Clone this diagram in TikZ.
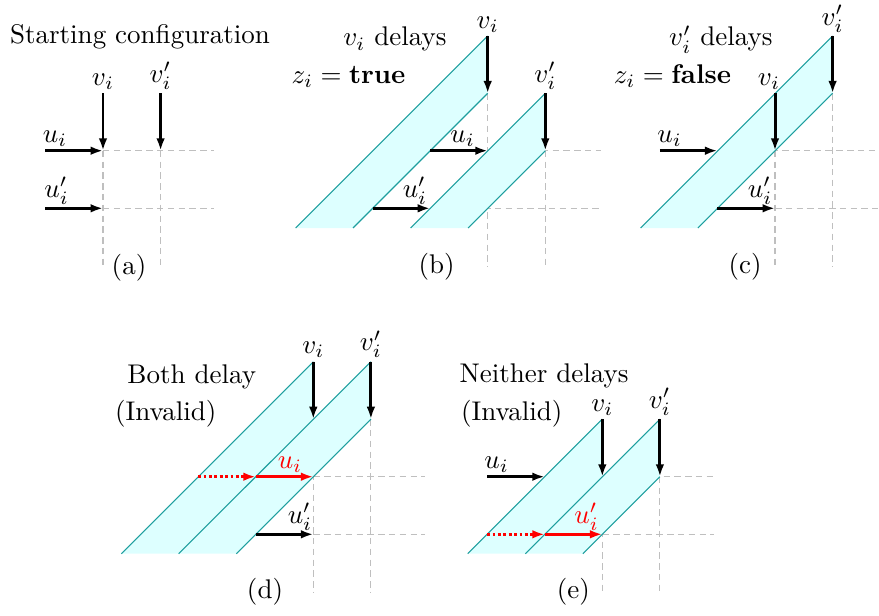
\documentclass[tikz,border=0pt]{standalone}
\usetikzlibrary{arrows.meta}
\definecolor{bandfill}{HTML}{DDFFFF}
\definecolor{bandedge}{HTML}{1E9E9E}
\begin{document}
\begin{tikzpicture}[x=0.37037pt,y=-0.37037pt,
  gridln/.style={draw=gray!50,line width=0.4pt,dash pattern=on 2.4pt off 1.6pt},
  arr/.style={line width=1.1pt,-{Latex[length=4.6pt,width=3.2pt]}},
  redarr/.style={arr,red},
  reddot/.style={arr,red,dash pattern=on 1.1pt off 0.9pt},
  bandf/.style={fill=bandfill,draw=none},
  bande/.style={draw=bandedge,line width=0.4pt},
  lab/.style={inner sep=1.2pt,anchor=south},
  ttl/.style={inner sep=0pt,anchor=base}]
\useasboundingbox (0,0) rectangle (879,615);

% ---------------- coordinates ----------------
% (a)
\coordinate (a1) at (103,150.7);   \coordinate (a2) at (160.6,150.7);
\coordinate (a3) at (103,208.3);   \coordinate (a4) at (160.6,208.3);
\coordinate (aVs) at (103,93.3);   \coordinate (aWs) at (160.6,93.3);
\coordinate (aUs) at (45.3,150.7); \coordinate (aXs) at (45.3,208.3);
\coordinate (aR1) at (214,150.7);  \coordinate (aR2) at (214,208.3);
\coordinate (aC1) at (103,267);    \coordinate (aC2) at (160.6,267);
% (b)
\coordinate (b1) at (487.7,150.7); \coordinate (b2) at (545.3,150.7);
\coordinate (b0) at (487.7,93.3);  \coordinate (bVs) at (487.7,36);
\coordinate (bUs) at (430.1,150.7); \coordinate (bXe) at (430.1,208.3);
\coordinate (bXs) at (372.5,208.3);
\coordinate (bR1) at (601,150.7);  \coordinate (bR2) at (601,208.3);
\coordinate (bC1) at (487.7,267);  \coordinate (bC2) at (545.3,267);
% (c)
\coordinate (c1) at (775,150.7);   \coordinate (c0) at (775,93.3);
\coordinate (c2) at (832.6,93.3);  \coordinate (cWs) at (832.6,36);
\coordinate (cUs) at (659.8,150.7); \coordinate (cUe) at (717.4,150.7);
\coordinate (cXs) at (717.4,208.3); \coordinate (cXe) at (775,208.3);
\coordinate (cR1) at (878,150.7);  \coordinate (cR2) at (878,208.3);
\coordinate (cC1) at (775,267);    \coordinate (cC2) at (832.6,267);
% (d)
\coordinate (d1) at (313.3,419.1); \coordinate (d2) at (370.9,419.1);
\coordinate (dVs) at (313.3,361.7); \coordinate (dWs) at (370.9,361.7);
\coordinate (dU0) at (198.1,476.7); \coordinate (dU1) at (255.7,476.7);
\coordinate (dU2) at (313.3,476.7);
\coordinate (dXs) at (255.7,534.3); \coordinate (dXe) at (313.3,534.3);
\coordinate (dR1) at (425,476.7);  \coordinate (dR2) at (425,534.3);
\coordinate (dC1) at (313.3,592);  \coordinate (dC2) at (370.9,592);
% (e)
\coordinate (e1) at (602.3,476.7); \coordinate (e2) at (659.9,476.7);
\coordinate (eVs) at (602.3,419.1); \coordinate (eWs) at (659.9,419.1);
\coordinate (eUs) at (487.1,476.7); \coordinate (eUe) at (544.7,476.7);
\coordinate (eX0) at (487.1,534.3); \coordinate (eX1) at (544.7,534.3);
\coordinate (eX2) at (602.3,534.3);
\coordinate (eR1) at (714,476.7);  \coordinate (eR2) at (714,534.3);
\coordinate (eC1) at (602.3,592);  \coordinate (eC2) at (659.9,592);

% ---------------- dashed grids ----------------
\draw[gridln] (a1) -- (aR1) (a3) -- (aR2) (a1) -- (aC1) (a2) -- (aC2);
\draw[gridln] (b1) -- (bR1) (bXe) -- (bR2) (b0) -- (bC1) (b2) -- (bC2);
\draw[gridln] (cUe) -- (cR1) (cXe) -- (cR2) (c1) -- (cC1) (c2) -- (cC2);
\draw[gridln] (dU2) -- (dR1) (dXe) -- (dR2) (d1) -- (dC1) (d2) -- (dC2);
\draw[gridln] (eUe) -- (eR1) (eX2) -- (eR2) (e1) -- (eC1) (e2) -- (eC2);

% ---------------- bands ----------------
% (b)
\fill[bandf] (487.7,36) -- (487.7,93.3) -- (353,228) -- (295.7,228) -- cycle;
\fill[bandf] (545.3,93.3) -- (545.3,150.7) -- (468,228) -- (410.6,228) -- cycle;
\draw[bande] (487.7,36) -- (295.7,228) (487.7,93.3) -- (353,228);
\draw[bande] (545.3,93.3) -- (410.6,228) (545.3,150.7) -- (468,228);
% (c)
\fill[bandf] (832.6,36) -- (832.6,93.3) -- (697.9,228) -- (640.6,228) -- cycle;
\draw[bande] (832.6,36) -- (640.6,228) (832.6,93.3) -- (697.9,228);
% (d)
\fill[bandf] (313.3,361.7) -- (313.3,419.1) -- (178.7,553.7) -- (121.3,553.7) -- cycle;
\fill[bandf] (370.9,361.7) -- (370.9,419.1) -- (236.3,553.7) -- (178.7,553.7) -- cycle;
\draw[bande] (313.3,361.7) -- (121.3,553.7) (370.9,361.7) -- (178.7,553.7)
             (370.9,419.1) -- (236.3,553.7);
% (e)
\fill[bandf] (602.3,419.1) -- (602.3,476.7) -- (525.3,553.7) -- (467.7,553.7) -- cycle;
\fill[bandf] (659.9,419.1) -- (659.9,476.7) -- (582.9,553.7) -- (525.3,553.7) -- cycle;
\draw[bande] (602.3,419.1) -- (467.7,553.7) (659.9,419.1) -- (525.3,553.7)
             (659.9,476.7) -- (582.9,553.7);

% ---------------- arrows ----------------
\draw[arr] (aVs) -- (a1);  \draw[arr] (aWs) -- (a2);
\draw[arr] (aUs) -- (a1);  \draw[arr] (aXs) -- (a3);

\draw[arr] (bVs) -- (b0);  \draw[arr] (b0 -| b2) -- (b2);
\draw[arr] (bUs) -- (b1);  \draw[arr] (bXs) -- (bXe);

\draw[arr] (c0) -- (c1);   \draw[arr] (cWs) -- (c2);
\draw[arr] (cUs) -- (cUe); \draw[arr] (cXs) -- (cXe);

\draw[arr] (dVs) -- (d1);  \draw[arr] (dWs) -- (d2);
\draw[reddot] (dU0) -- (dU1); \draw[redarr] (dU1) -- (dU2);
\draw[arr] (dXs) -- (dXe);

\draw[arr] (eVs) -- (e1);  \draw[arr] (eWs) -- (e2);
\draw[arr] (eUs) -- (eUe);
\draw[reddot] (eX0) -- (eX1); \draw[redarr] (eX1) -- (eX2);

% ---------------- labels ----------------
\node[lab] (aV) at (aVs) {$v_i$};
\node[lab] (aW) at (aWs) {$v'_i$};
\node[lab] (aU) at (55,150.7) {$u_i$};
\node[lab] (aX) at (56.7,208.3) {$u'_i$};

\node[lab] (bV) at (bVs) {$v_i$};
\node[lab] (bW) at (545.3,93.3) {$v'_i$};
\node[lab] (bU) at (462.7,150.7) {$u_i$};
\node[lab] (bX) at (415,208.3) {$u'_i$};

\node[lab] (cV) at (769,93.3) {$v_i$};
\node[lab] (cW) at (cWs) {$v'_i$};
\node[lab] (cU) at (669.5,150.7) {$u_i$};
\node[lab] (cX) at (760,208.3) {$u'_i$};

\node[lab] (dV) at (dVs) {$v_i$};
\node[lab] (dW) at (dWs) {$v'_i$};
\node[lab,text=red] (dU) at (290,476.7) {$u_i$};
\node[lab] (dX) at (300,534.3) {$u'_i$};

\node[lab] (eV) at (eVs) {$v_i$};
\node[lab] (eW) at (eWs) {$v'_i$};
\node[lab] (eU) at (496.7,476.7) {$u_i$};
\node[lab,text=red] (eX) at (586.7,534.3) {$u'_i$};

% ---------------- titles ----------------
\node[ttl] (ta) at (140,43.5) {Starting configuration};
\node[ttl] (tb1) at (395,46) {$v_i$ delays};
\node[ttl] (tb2) at (348.5,83) {$z_i = \textbf{true}$};
\node[ttl] (tc1) at (720.8,46) {$v'_i$ delays};
\node[ttl] (tc2) at (672.5,83) {$z_i = \textbf{false}$};
\node[ttl] (td1) at (191.7,383) {Both delay};
\node[ttl] (td2) at (165.8,420) {(Invalid)};
\node[ttl] (te1) at (544,382) {Neither delays};
\node[ttl] (te2) at (511.7,420) {(Invalid)};

\node[ttl] (ca) at (129,274) {(a)};
\node[ttl] (cb) at (436.7,273) {(b)};
\node[ttl] (cc) at (745,273) {(c)};
\node[ttl] (cd) at (265,598) {(d)};
\node[ttl] (ce) at (573.3,598) {(e)};
\end{tikzpicture}
\end{document}
